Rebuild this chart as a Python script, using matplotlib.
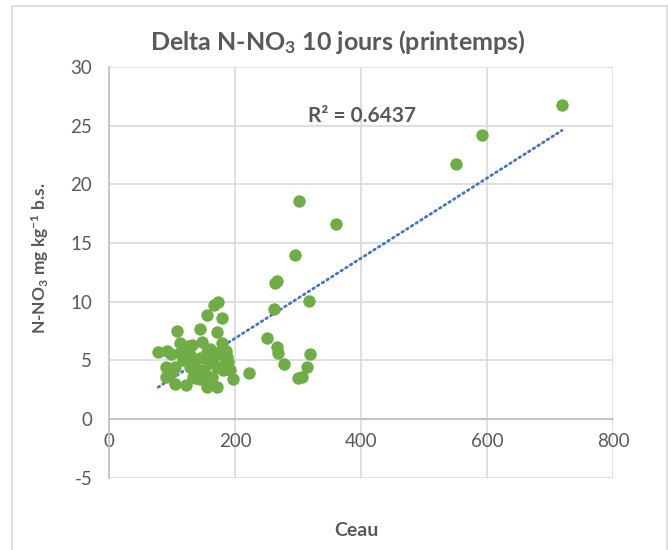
import numpy as np
import matplotlib
matplotlib.use("Agg")
import matplotlib.pyplot as plt
from matplotlib.patches import Rectangle

plt.rcParams['font.family'] = ['Lato', 'DejaVu Sans']
plt.rcParams['mathtext.default'] = 'regular'
plt.rcParams['axes.unicode_minus'] = False

# Ceau vs delta N-NO3
ceau = [719, 592, 551, 301, 360, 295, 263, 267, 317, 262, 251, 266, 269, 319,
        278, 314, 300, 307, 222,
        78, 92, 99, 108, 113, 91, 105, 90, 105, 123, 126, 131, 123, 144, 147,
        155, 167, 173, 180, 171, 180, 155, 134, 128, 139, 134, 144, 155, 171,
        163, 171, 187, 187, 192, 197, 158, 150, 118, 100, 165, 175, 185, 145,
        160, 184, 189, 181, 160, 142, 136, 152, 113, 128]
delta_no3 = [26.8, 24.2, 21.7, 18.6, 16.6, 14.0, 11.6, 11.8, 10.1, 9.4, 6.9,
             6.1, 5.6, 5.5, 4.7, 4.4, 3.5, 3.55, 3.95,
             5.75, 5.8, 5.5, 7.5, 6.45, 4.45, 4.4, 3.55, 3.0, 2.9, 6.2, 6.3,
             5.45, 7.65, 6.6, 8.9, 9.7, 10.0, 8.6, 7.45, 6.45, 5.7, 5.0, 4.45,
             4.2, 3.6, 3.45, 2.75, 2.75, 3.6, 4.45, 5.3, 4.75, 4.2, 3.45, 4.75,
             4.2, 5.0, 4.0, 5.2, 5.7, 5.8, 5.2, 6.0, 5.2, 4.9, 4.2, 4.9, 4.2,
             3.5, 3.6, 5.6, 5.45]
r2_label = "R² = 0.6437"
x_ticks = [0, 200, 400, 600, 800]
y_ticks = [-5, 0, 5, 10, 15, 20, 25, 30]

GRIS = '#595959'
VERT = '#70AD47'
BLEU = '#4472C4'

fig = plt.figure(figsize=(6.68, 5.5), dpi=100)
fig.patches.append(Rectangle((12 / 668, -0.05), 655 / 668, 1.05 - 6 / 550,
                             transform=fig.transFigure, fill=False,
                             edgecolor='#D9D9D9', linewidth=1.2))
ax = fig.add_axes([109 / 668, 1 - 477.7 / 550, 504 / 668, (477.7 - 67) / 550])

x = np.array(ceau)
y = np.array(delta_no3)
ax.scatter(x, y, s=80, color=VERT, zorder=3, linewidths=0)

# courbe de tendance lineaire
a, b = np.polyfit(x, y, 1)
xl = np.array([x.min(), x.max()])
ax.plot(xl, a * xl + b, linestyle=(0, (0.6, 1.4)), color=BLEU, linewidth=2,
        dash_capstyle='round', zorder=2)

ax.set_xlim(0, 800)
ax.set_ylim(-5, 30)
ax.set_xticks(x_ticks)
ax.set_yticks(y_ticks)
ax.grid(True, color='#D9D9D9', linewidth=1.2)
ax.set_axisbelow(True)
for s in ['top', 'right']:
    ax.spines[s].set_visible(False)
ax.spines['bottom'].set_position(('data', 0))
ax.spines['bottom'].set_color('#BFBFBF')
ax.spines['left'].set_color('#BFBFBF')
ax.spines['bottom'].set_linewidth(1.2)
ax.spines['left'].set_linewidth(1.2)
ax.tick_params(length=0, labelsize=13.5, labelcolor=GRIS)
ax.tick_params(axis='x', pad=10)
ax.tick_params(axis='y', pad=12)

ax.text(402, 25.8, r2_label, fontsize=15, fontweight='bold', color=GRIS,
        ha='center', va='center')

fig.text(338 / 668, 1 - 42 / 550, r"Delta N-NO$_{3}$ 10 jours (printemps)",
         fontsize=18, fontweight='bold', color=GRIS, ha='center', va='center')
fig.text(40 / 668, 1 - 258 / 550, r"N-NO$_{3}$ mg kg$^{-1}$ b.s.",
         fontsize=12.5, fontweight='bold', color=GRIS, ha='center', va='center',
         rotation=90)
fig.text(356 / 668, 1 - 530 / 550, "Ceau", fontsize=14, fontweight='bold',
         color=GRIS, ha='center', va='center')

fig.savefig("out.png", dpi=100)
